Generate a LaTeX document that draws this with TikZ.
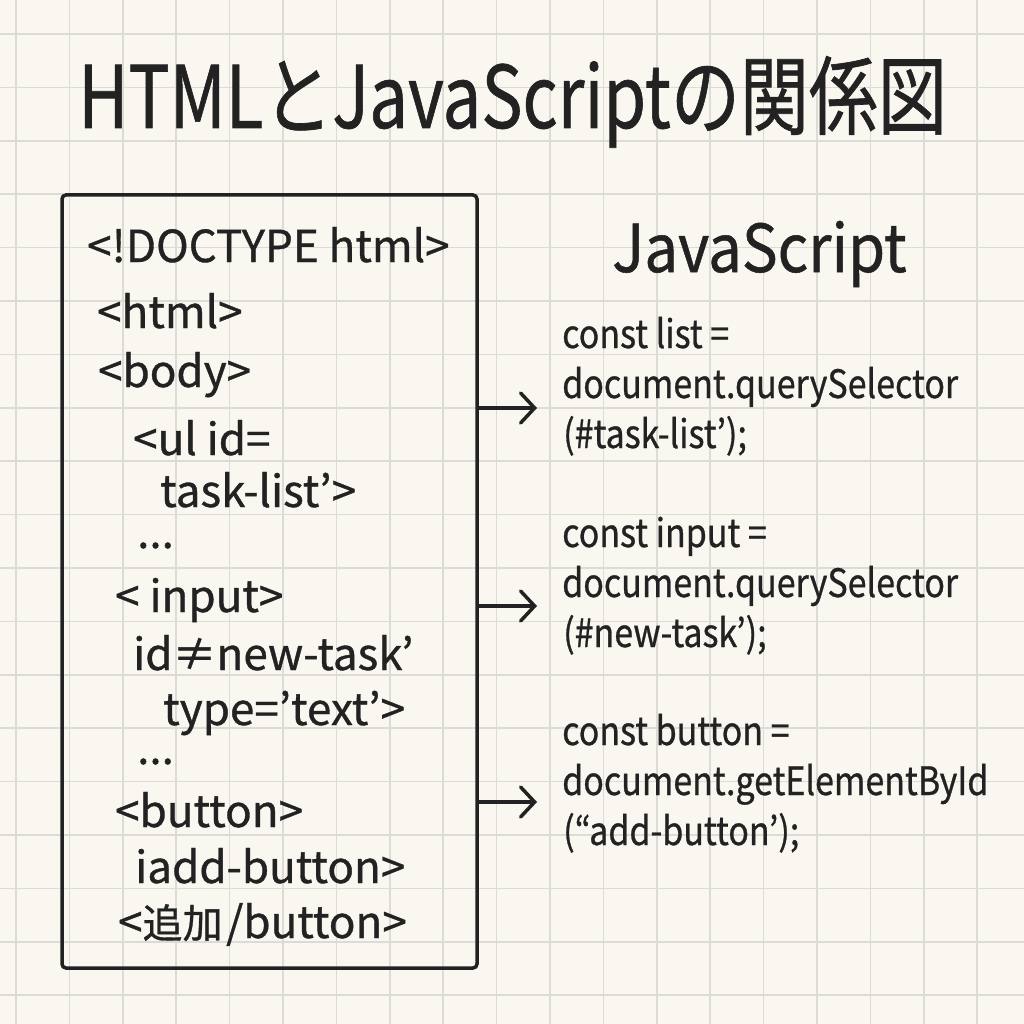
\documentclass[tikz,border=0pt]{standalone}
\usepackage{fontspec}
\setmainfont{Noto Sans CJK JP}[FakeBold=0.8]
\usetikzlibrary{arrows.meta}
\definecolor{paper}{HTML}{F9F7F0}
\definecolor{gridc}{HTML}{DCDBD5}
\definecolor{ink}{HTML}{222222}
\newcommand{\tallt}[2]{\scalebox{1}[#1]{#2}}
\begin{document}
\begin{tikzpicture}[x=1pt,y=-1pt,
  codeh/.style={anchor=base west,inner sep=0pt,text=ink,font=\fontsize{44}{50}\selectfont},
  codej/.style={anchor=base west,inner sep=0pt,text=ink,font=\fontsize{34}{44}\selectfont},
  conn/.style={draw=ink,line width=3.5pt,-{Straight Barb[length=14pt,width=30pt,line width=3.5pt,line cap=round]}}]
\useasboundingbox (0,0) rectangle (1024,1024);
\fill[paper] (0,0) rectangle (1024,1024);
\foreach \k in {0,...,18} {
  \draw[gridc,line width=1.5pt] ({16+53.4*\k},0) -- ({16+53.4*\k},1024);
  \draw[gridc,line width=1.5pt] (0,{34+53.4*\k}) -- (1024,{34+53.4*\k});
}
% title
\node[anchor=base west,inner sep=0pt,text=ink,font=\fontsize{69}{90}\selectfont] (title) at (78,128) {\tallt{1.25}{HTMLとJavaScriptの関係図}};
% html box
\node[draw=ink,line width=3.5pt,rounded corners=4pt,minimum width=415pt,minimum height=773pt,inner sep=0pt] (box) at (269.5,581.5) {};
\node[codeh] (h1) at (87,262) {<!DOCTYPE html>};
\node[codeh] (h2) at (97,328) {<html>};
\node[codeh] (h3) at (98,387) {<body>};
\node[codeh] (h4) at (133,455) {<ul id=};
\node[codeh] (h5) at (160,507) {task-list’>};
\node[codeh] (h6) at (137,548) {...};
\node[codeh] (h7) at (115,612) {< input>};
\node[codeh] (h8) at (133,670) {id≠new-task’};
\node[codeh] (h9) at (163,725) {type=’text’>};
\node[codeh] (h10) at (137,764) {...};
\node[codeh] (h11) at (115,827) {<button>};
\node[codeh] (h12) at (135,883) {iadd-button>};
\node[codeh] (h13) at (118,938) {<{\fontsize{40}{50}\selectfont 追加}\hspace{0.08em}/button>};
% javascript
\node[anchor=base west,inner sep=0pt,text=ink,font=\fontsize{60}{80}\selectfont] (js) at (612,272) {\tallt{1.1}{JavaScript}};
\node[codej] (j1) at (562,348) {\tallt{1.15}{const list =}};
\node[codej] (j2) at (562,398) {\tallt{1.15}{document.querySelector}};
\node[codej] (j3) at (563,448) {\tallt{1.15}{(\#task-list’);}};
\node[codej] (j4) at (562,547) {\tallt{1.15}{const input =}};
\node[codej] (j5) at (562,597) {\tallt{1.15}{document.querySelector}};
\node[codej] (j6) at (563,647) {\tallt{1.15}{(\#new-task’);}};
\node[codej] (j7) at (562,745) {\tallt{1.15}{const button =}};
\node[codej] (j8) at (562,795) {\tallt{1.15}{document.getElementById}};
\node[codej] (j9) at (563,845) {\tallt{1.15}{(“add-button’);}};
% arrows
\coordinate (a1) at (537,408);
\coordinate (a2) at (537,606);
\coordinate (a3) at (537,802);
\draw[conn] (box.east |- a1) -- (a1);
\draw[conn] (box.east |- a2) -- (a2);
\draw[conn] (box.east |- a3) -- (a3);
\end{tikzpicture}
\end{document}
